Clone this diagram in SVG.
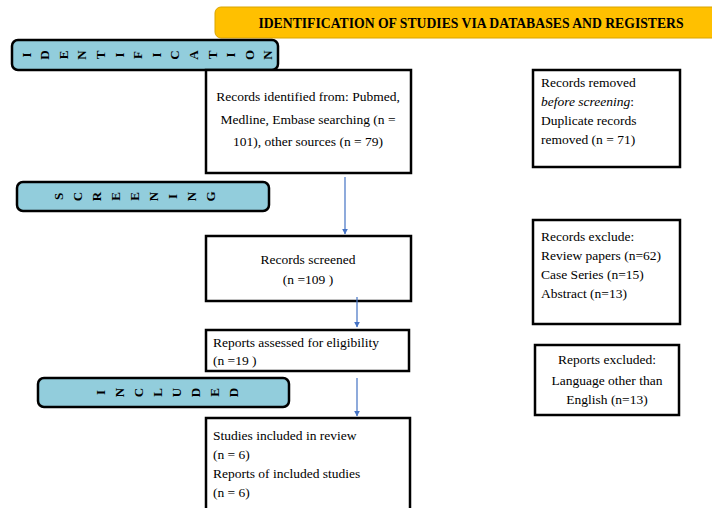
<svg xmlns="http://www.w3.org/2000/svg" width="712" height="508" viewBox="0 0 712 508">
<defs>
<style>
.box{fill:#fff;stroke:#000;stroke-width:2.5}
.phase{fill:#92CDDC;stroke:#000;stroke-width:2.5}
.t{font-family:"Liberation Serif","Times New Roman",serif;font-size:13.5px;fill:#000}
.c{text-anchor:middle}
.pl{font-family:"Liberation Serif","Times New Roman",serif;font-size:13px;font-weight:bold;fill:#000;text-anchor:middle;dominant-baseline:central}
.arr{stroke:#4472C4;stroke-width:1.2;fill:none;marker-end:url(#ah)}
</style>
<marker id="ah" viewBox="0 0 10 10" refX="9" refY="5" markerWidth="6" markerHeight="6" orient="auto" markerUnits="userSpaceOnUse">
<path d="M0,0 L10,5 L0,10 z" fill="#4472C4"/>
</marker>
</defs>
<rect width="712" height="508" fill="#fff"/>
<g id="banner">
<rect x="215" y="7" width="510" height="31" rx="6" fill="#FFC000" stroke="#D9A400" stroke-width="1"/>
<text x="471" y="27.5" class="t c" style="font-weight:bold;font-size:13.7px">IDENTIFICATION OF STUDIES VIA DATABASES AND REGISTERS</text>
</g>
<g id="phase-identification">
<rect class="phase" x="12" y="40" width="266" height="30" rx="6"/>
<g class="pl">
<text transform="translate(26,55) rotate(-90)">I</text>
<text transform="translate(44.6,55) rotate(-90)">D</text>
<text transform="translate(63.2,55) rotate(-90)">E</text>
<text transform="translate(81.8,55) rotate(-90)">N</text>
<text transform="translate(100.4,55) rotate(-90)">T</text>
<text transform="translate(119,55) rotate(-90)">I</text>
<text transform="translate(137.6,55) rotate(-90)">F</text>
<text transform="translate(156.2,55) rotate(-90)">I</text>
<text transform="translate(174.8,55) rotate(-90)">C</text>
<text transform="translate(193.4,55) rotate(-90)">A</text>
<text transform="translate(212,55) rotate(-90)">T</text>
<text transform="translate(230.6,55) rotate(-90)">I</text>
<text transform="translate(249.2,55) rotate(-90)">O</text>
<text transform="translate(267.8,55) rotate(-90)">N</text>
</g>
</g>
<g id="phase-screening">
<rect class="phase" x="17" y="182" width="252" height="29" rx="6"/>
<g class="pl">
<text transform="translate(58,196.5) rotate(-90)">S</text>
<text transform="translate(77,196.5) rotate(-90)">C</text>
<text transform="translate(96,196.5) rotate(-90)">R</text>
<text transform="translate(115,196.5) rotate(-90)">E</text>
<text transform="translate(134,196.5) rotate(-90)">E</text>
<text transform="translate(153,196.5) rotate(-90)">N</text>
<text transform="translate(172,196.5) rotate(-90)">I</text>
<text transform="translate(191,196.5) rotate(-90)">N</text>
<text transform="translate(210,196.5) rotate(-90)">G</text>
</g>
</g>
<g id="phase-included">
<rect class="phase" x="38" y="378" width="251" height="29" rx="6"/>
<g class="pl">
<text transform="translate(100,392.5) rotate(-90)">I</text>
<text transform="translate(119,392.5) rotate(-90)">N</text>
<text transform="translate(138,392.5) rotate(-90)">C</text>
<text transform="translate(157,392.5) rotate(-90)">L</text>
<text transform="translate(176,392.5) rotate(-90)">U</text>
<text transform="translate(195,392.5) rotate(-90)">D</text>
<text transform="translate(214,392.5) rotate(-90)">E</text>
<text transform="translate(233,392.5) rotate(-90)">D</text>
</g>
</g>
<g id="records-identified">
<rect class="box" x="206" y="70" width="205" height="103"/>
<text class="t c" x="308" y="101">Records identified  from: Pubmed,</text>
<text class="t c" x="308" y="124">Medline,  Embase searching  (n =</text>
<text class="t c" x="308" y="146">101), other sources (n = 79)</text>
</g>
<g id="records-removed">
<rect class="box" x="533" y="70" width="147" height="97"/>
<text class="t" x="541" y="87">Records removed</text>
<text class="t" x="541" y="106" font-style="italic">before screening<tspan font-style="normal">:</tspan></text>
<text class="t" x="541" y="125">Duplicate records</text>
<text class="t" x="541" y="144">removed (n = 71)</text>
</g>
<g id="records-screened">
<rect class="box" x="206" y="236" width="205" height="65"/>
<text class="t c" x="308" y="264">Records screened</text>
<text class="t c" x="308" y="284">(n =109 )</text>
</g>
<g id="records-excluded">
<rect class="box" x="533" y="220" width="147" height="104"/>
<text class="t" x="541" y="241">Records exclude:</text>
<text class="t" x="541" y="260">Review  papers (n=62)</text>
<text class="t" x="541" y="279">Case Series (n=15)</text>
<text class="t" x="541" y="298">Abstract (n=13)</text>
</g>
<g id="reports-assessed">
<rect class="box" x="206" y="330" width="203" height="41"/>
<text class="t" x="213" y="347">Reports assessed for eligibility</text>
<text class="t" x="213" y="365">(n =19 )</text>
</g>
<g id="reports-excluded">
<rect class="box" x="535" y="345" width="144" height="70"/>
<text class="t c" x="607" y="364">Reports excluded:</text>
<text class="t c" x="607" y="385">Language  other than</text>
<text class="t c" x="607" y="404">English  (n=13)</text>
</g>
<g id="studies-included">
<rect class="box" x="206" y="418" width="204" height="100"/>
<text class="t" x="213" y="440">Studies included in review</text>
<text class="t" x="213" y="459">(n = 6)</text>
<text class="t" x="213" y="478">Reports of included studies</text>
<text class="t" x="213" y="497">(n = 6)</text>
</g>
<g id="connectors">
<line class="arr" x1="345" y1="177" x2="345" y2="234"/>
<line class="arr" x1="357" y1="297" x2="357" y2="327"/>
<line class="arr" x1="357" y1="378" x2="357" y2="416"/>
</g>
</svg>
